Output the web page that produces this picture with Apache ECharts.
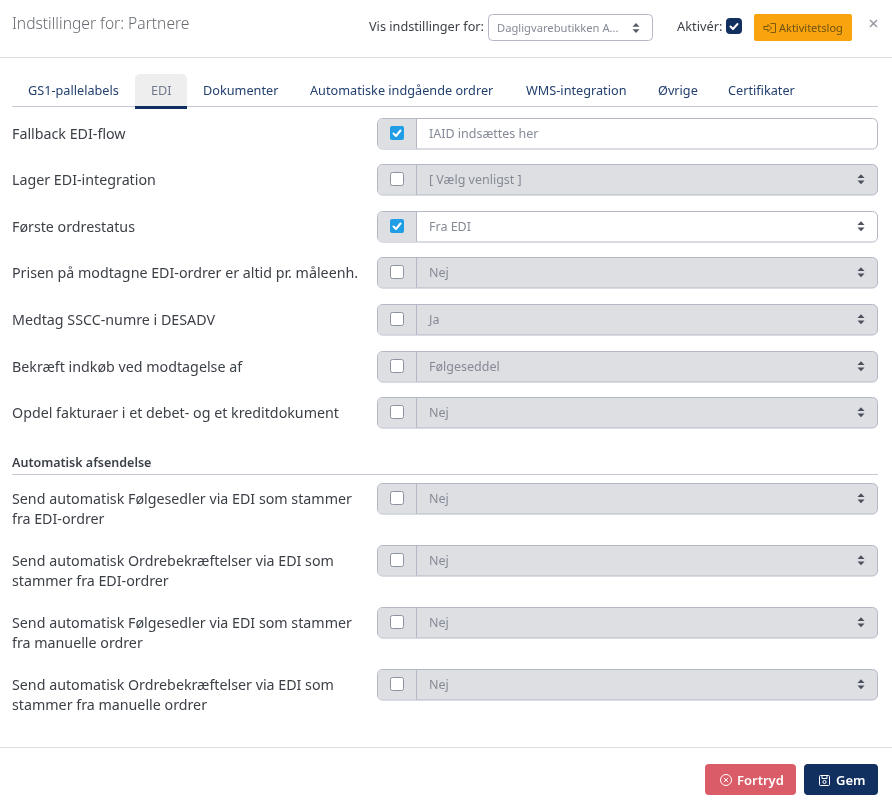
<!DOCTYPE html>
<html>
<head>
<meta charset="utf-8">
<style>html,body{margin:0;padding:0;background:#fff}#main{width:892px;height:809px}</style>
<script src="https://cdn.jsdelivr.net/npm/echarts@6/dist/echarts.min.js"></script>
</head>
<body>
<div id="main"></div>
<script>
var tabs = ['GS1-pallelabels', 'EDI', 'Dokumenter', 'Automatiske indgående ordrer', 'WMS-integration', 'Øvrige', 'Certifikater'];
var tabX = [28, 151, 203, 310, 526, 658, 728];
var rowLabels = [
  ['Fallback EDI-flow'],
  ['Lager EDI-integration'],
  ['Første ordrestatus'],
  ['Prisen på modtagne EDI-ordrer er altid pr. måleenh.'],
  ['Medtag SSCC-numre i DESADV'],
  ['Bekræft indkøb ved modtagelse af'],
  ['Opdel fakturaer i et debet- og et kreditdokument'],
  ['Send automatisk Følgesedler via EDI som stammer', 'fra EDI-ordrer'],
  ['Send automatisk Ordrebekræftelser via EDI som', 'stammer fra EDI-ordrer'],
  ['Send automatisk Følgesedler via EDI som stammer', 'fra manuelle ordrer'],
  ['Send automatisk Ordrebekræftelser via EDI som', 'stammer fra manuelle ordrer']
];
var rowValues = ['IAID indsættes her', '[ Vælg venligst ]', 'Fra EDI', 'Nej', 'Ja', 'Følgeseddel', 'Nej', 'Nej', 'Nej', 'Nej', 'Nej'];
var rowChecked = [true, false, true, false, false, false, false, false, false, false, false];
var rowIsSelect = [false, true, true, true, true, true, true, true, true, true, true];
var rowTop = [118, 164, 211, 257, 304, 351, 397, 483, 545, 607, 669];

var FONT = '"Noto Sans", sans-serif';
var NAVY = '#12305f';
var els = [];

function rect(x, y, w, h, fill, stroke, r, lw) {
  els.push({type: 'rect', shape: {x: x, y: y, width: w, height: h, r: r || 0},
    style: {fill: fill || 'transparent', stroke: stroke || null, lineWidth: lw || 1}});
}
function text(x, y, str, size, color, weight, align) {
  els.push({type: 'text', x: x, y: y, style: {text: str, fontFamily: FONT, fontSize: size, fill: color,
    fontWeight: weight || 'normal', align: align || 'left', verticalAlign: 'middle'}});
}
function poly(points, color, lw) {
  els.push({type: 'polyline', shape: {points: points}, style: {stroke: color, lineWidth: lw || 1, fill: null, lineCap: 'round', lineJoin: 'round'}});
}
function line(x1, y1, x2, y2, color, lw) {
  els.push({type: 'line', shape: {x1: x1, y1: y1, x2: x2, y2: y2}, style: {stroke: color, lineWidth: lw || 1}});
}
function updown(x, y, color) {
  els.push({type: 'polygon', shape: {points: [[x - 3.5, y - 1.2], [x + 3.5, y - 1.2], [x, y - 5]]}, style: {fill: color}});
  els.push({type: 'polygon', shape: {points: [[x - 3.5, y + 1.2], [x + 3.5, y + 1.2], [x, y + 5]]}, style: {fill: color}});
}
function checkbox(x, y, on) {
  if (on) {
    rect(x, y, 14, 14, '#1f9ee6', null, 2);
    poly([[x + 3.5, y + 7.5], [x + 6, y + 10], [x + 10.5, y + 4.5]], '#fff', 2);
  } else {
    rect(x + 0.5, y + 0.5, 13, 13, '#fff', '#8d92a0', 2);
  }
}

// header
text(12, 25, 'Indstillinger for: Partnere', 15.6, '#666a70', 300);
text(369, 27.5, 'Vis indstillinger for:', 12.7, '#3b3f46');
rect(488.5, 14.5, 164, 26, '#fff', '#b4b8c6', 4);
text(497, 28.5, 'Dagligvarebutikken A...', 11.2, '#858a96');
updown(636, 28, '#555a66');
text(677, 27.5, 'Aktivér:', 12.8, '#3b3f46');
rect(726, 18, 16, 16, NAVY, null, 4);
poly([[730.5, 26.5], [733, 29], [737.5, 24]], '#fff', 2);
rect(754, 14, 98, 27, '#f9a30f', null, 2);
poly([[771, 23.5], [775.5, 23.5], [775.5, 32.5], [771, 32.5]], '#7d5a10', 1);
poly([[764, 26.5], [768, 26.5], [768, 24.5], [771.5, 28], [768, 31.5], [768, 29.5], [764, 29.5], [764, 26.5]], '#7d5a10', 1);
text(779, 28.5, 'Aktivitetslog', 11, '#6d5213');
line(870, 20, 877, 27, '#9a9da3', 1.6);
line(877, 20, 870, 27, '#9a9da3', 1.6);
line(0, 57.5, 892, 57.5, '#dfdfe1');

// tabs
rect(135, 74, 52, 33, '#eeeeef', null, [5, 5, 0, 0]);
line(12, 106.5, 878, 106.5, '#c5c7d2');
rect(135, 106, 52, 3, NAVY);
tabs.forEach(function (t, i) {
  text(tabX[i], 91, t, 12.7, i === 1 ? '#717a8d' : '#23406f');
});

// form rows
rowLabels.forEach(function (lines, i) {
  var top = rowTop[i], h = 30.5, cy = top + h / 2;
  var locked = !rowChecked[i];
  var fill = locked ? '#dedfe3' : '#fff';
  rect(377.5, top + 0.5, 500, h, fill, '#b4b8c6', 5);
  rect(378, top + 1, 38, h - 1, '#dedfe3', null, [4, 0, 0, 4]);
  line(416.5, top + 1, 416.5, top + h, '#b4b8c6');
  checkbox(390, Math.round(cy) - 7, rowChecked[i]);
  text(429, cy + 1, rowValues[i], 12.5, '#858a96');
  if (rowIsSelect[i]) updown(861, cy, '#4b505c');

  if (lines.length === 1) {
    text(12, cy + 2, lines[0], 14.25, '#3b3f46');
  } else {
    text(12, top + 17, lines[0], 14.25, '#3b3f46');
    text(12, top + 37, lines[1], 14.25, '#3b3f46');
  }
});

// section heading
text(12, 463, 'Automatisk afsendelse', 12.5, '#3b3f46', 600);
line(12, 474.5, 878, 474.5, '#c5c7d2');

// footer
line(0, 747.5, 892, 747.5, '#dfdfe1');
rect(705, 764, 91, 31, '#d95c68', null, 4);
els.push({type: 'circle', shape: {cx: 726, cy: 780, r: 5.5}, style: {fill: null, stroke: '#fff', lineWidth: 1}});
line(723.8, 777.8, 728.2, 782.2, '#fff');
line(728.2, 777.8, 723.8, 782.2, '#fff');
text(737, 781, 'Fortryd', 13, '#fff', 600);
rect(804, 764, 74, 31, NAVY, null, 4);
rect(819.5, 775.5, 10, 10, null, '#fff', 1);
rect(822, 775.5, 5, 3, null, '#fff');
els.push({type: 'circle', shape: {cx: 824.5, cy: 782, r: 1.6}, style: {fill: null, stroke: '#fff', lineWidth: 1}});
text(836, 781, 'Gem', 13, '#fff', 600);

var chart = echarts.init(document.getElementById('main'), null, {width: 892, height: 809});
chart.setOption({
  animation: false,
  backgroundColor: '#fff',
  graphic: {elements: els}
});
</script>
</body>
</html>
